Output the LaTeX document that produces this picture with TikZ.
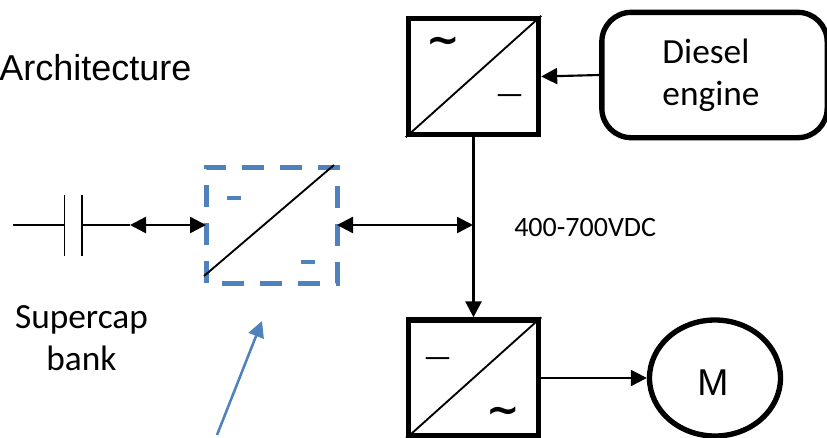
\documentclass[tikz,border=0pt]{standalone}
\usepackage{fontspec}
\setmainfont{Carlito}
\newfontfamily\arialfont{Liberation Sans}
\newfontfamily\wavefont{DejaVu Sans}
\usetikzlibrary{arrows.meta,shapes.geometric}
\definecolor{officeblue}{HTML}{4F81BD}
\tikzset{
    conv/.style={draw, line width=4pt, minimum width=97.5pt, minimum height=87pt, inner sep=0pt},
    wire/.style={line width=1.2pt},
    slash/.style={line width=1.4pt},
    power/.style={line width=1.8pt, {Triangle[length=12pt,width=12pt]}-{Triangle[length=12pt,width=12pt]}},
    feed/.style={line width=1.6pt, -{Triangle[length=12pt,width=12pt]}},
    label/.style={font=\fontsize{26.5}{31.5}\selectfont, align=left, inner sep=0pt},
    symb/.style={font=\fontsize{24}{24}\selectfont, inner sep=0pt},
    wave/.style={font=\wavefont\bfseries\fontsize{30}{30}\selectfont, inner sep=0pt},
    polarity/.style={line width=3pt, officeblue}
}
\begin{document}
\begin{tikzpicture}[x=0.75pt, y=-0.75pt]
        \clip (0,0) rectangle (827,437);

        \node[conv] (rect) at (473.5,76.5) {};
        \node[conv] (inv) at (473.5,378) {};
        \node[draw, line width=4pt, rounded corners=22pt, minimum width=169pt, minimum height=94pt] (diesel) at (714.5,75) {};
        \node[label] (dieseltxt) at (711,75) {Diesel\\engine};
        \node[draw, ellipse, line width=4pt, minimum width=98.25pt, minimum height=87pt, inner sep=0pt] (motor) at (715,378) {};
        \node[font=\arialfont\fontsize{28}{28}\selectfont, inner sep=0pt] (motortxt) at (713,383) {M};
        \node[draw=officeblue, line width=3.75pt, dash pattern=on 16.5pt off 12pt, dash phase=16.5pt, minimum width=98.25pt, minimum height=87pt, inner sep=0pt, outer sep=0pt] (dcdc) at (271.5,225) {};

        \draw[slash] (rect.south west) -- (rect.north east);
        \draw[slash] (inv.south west) -- (inv.north east);
        \draw[slash] (dcdc.south west) ++(-2,-7) coordinate (dcdcin) -- ++(130,-111) coordinate (dcdcout);

        % converter signs
        \node[wave] (rectac) at (443,45) {\char`~};
        \node[symb] (rectdc) at (509.5,100) {—};
        \node[symb] (invdc) at (437.5,363) {—};
        \node[wave] (invac) at (503,415) {\char`~};
        \coordinate (pola) at (227,198);
        \coordinate (polb) at (241,198);
        \coordinate (polc) at (301,262);
        \coordinate (pold) at (315,262);
        \draw[polarity] (pola) -- (polb);
        \draw[polarity] (polc) -- (pold);

        % supercap
        \coordinate (capin) at (13,225);
        \coordinate (capa) at (64.5,225);
        \coordinate (capb) at (82,225);
        \coordinate (capout) at (130,225);
        \draw[wire] (capin) -- (capa);
        \draw[wire] (capb) -- (capout);
        \draw[wire] (capa) ++(0,-30) -- ++(0,61);
        \draw[wire] (capb) ++(0,-30) -- ++(0,61);
        \draw[power] (capout) -- (dcdc.west);

        % dc bus
        \coordinate (bus) at (473,225);
        \draw[power] (dcdc.east) -- (bus);
        \draw[feed, line width=1.9pt] (rect.south) -- (inv.north);
        \draw[feed] (diesel.west) -- (rect.east);
        \draw[feed] (inv.east) -- (motor.west);

        \coordinate (arrowfoot) at (217,435);
        \coordinate (arrowhead) at (262,321);
        \draw[officeblue, line width=1.9pt, -{Triangle[length=12pt,width=12pt]}] (arrowfoot) -- (arrowhead);

        \node[font=\arialfont\fontsize{27}{32}\selectfont, anchor=base west, inner sep=0pt] (title) at (-1,80) {Architecture};
        \node[label, align=center] (captxt) at (81.5,338) {Supercap\\bank};
        \node[font=\fontsize{21}{25}\selectfont, anchor=base west, inner sep=0pt] (volts) at (514,236) {400-700VDC};
    \end{tikzpicture}
\end{document}
